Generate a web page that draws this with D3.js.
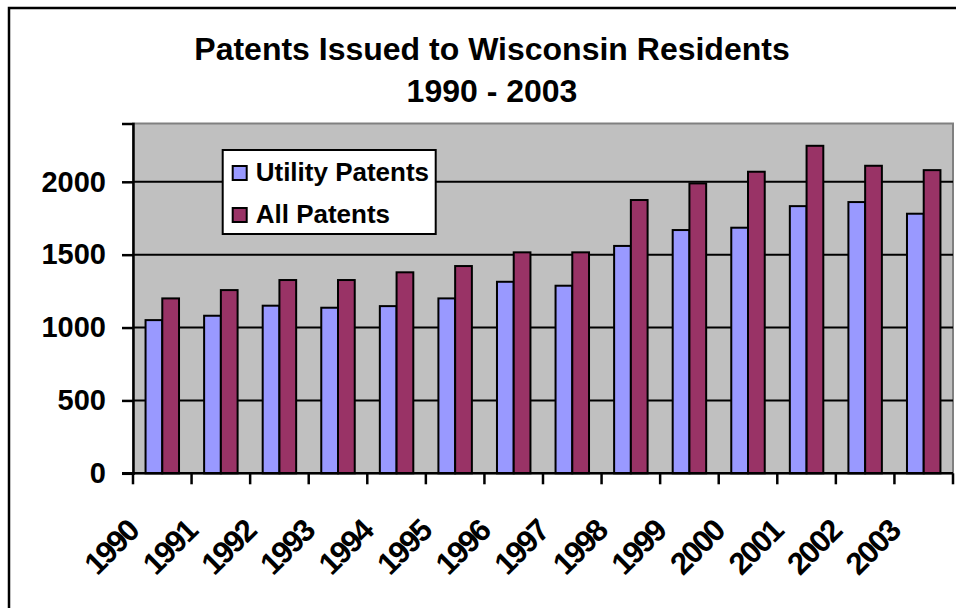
<!DOCTYPE html>
<html>
<head>
<meta charset="utf-8">
<script src="https://cdn.jsdelivr.net/npm/d3@7"></script>
<style>
  body { margin: 0; background: #fff; }
  text { font-family: "Liberation Sans", Arial, sans-serif; font-weight: bold; }
</style>
</head>
<body>
<script>
// data
var years = ["1990","1991","1992","1993","1994","1995","1996","1997","1998","1999","2000","2001","2002","2003"];
var utilityPatents = [1051, 1081, 1150, 1136, 1147, 1200, 1314, 1287, 1560, 1669, 1685, 1833, 1861, 1781];
var allPatents = [1200, 1257, 1326, 1326, 1379, 1422, 1516, 1516, 1875, 1989, 2069, 2247, 2110, 2080];
var seriesNames = ["Utility Patents", "All Patents"];
var yTicks = [0, 500, 1000, 1500, 2000];

var colors = ["#9999FF", "#993366"];

// set dimensions
var width = 956;
var height = 608;
var plot = { left: 133, right: 953, top: 123.5, bottom: 473.3 };

var svg = d3.select("body")
    .append("svg")
    .attr("width", width)
    .attr("height", height);

// outer chart border (cropped at right and bottom)
svg.append("rect")
    .attr("x", 9).attr("y", 8)
    .attr("width", 1000).attr("height", 700)
    .attr("fill", "#fff")
    .attr("stroke", "#000")
    .attr("stroke-width", 2.5);

// title
var title = svg.append("text")
    .attr("text-anchor", "middle")
    .attr("font-size", "32px");
title.append("tspan").attr("x", 492).attr("y", 60).text("Patents Issued to Wisconsin Residents");
title.append("tspan").attr("x", 492).attr("y", 102).text("1990 - 2003");

// scales
var x0 = d3.scaleBand()
    .domain(years)
    .range([plot.left, plot.right]);

var barW = x0.bandwidth() / 3.5;
var x1 = d3.scaleBand()
    .domain(seriesNames)
    .range([0, barW * 2]);
var groupOffset = (x0.bandwidth() - barW * 2) / 2;

var yScale = d3.scaleLinear()
    .domain([0, 2400])
    .range([plot.bottom, plot.top]);

// plot background
svg.append("rect")
    .attr("x", plot.left)
    .attr("y", plot.top)
    .attr("width", plot.right - plot.left)
    .attr("height", plot.bottom - plot.top)
    .attr("fill", "#C0C0C0")
    .attr("stroke", "#808080")
    .attr("stroke-width", 2);

// gridlines
svg.append("g")
    .selectAll("line")
    .data(yTicks.filter(d => d > 0))
    .enter()
    .append("line")
    .attr("x1", plot.left)
    .attr("x2", plot.right)
    .attr("y1", d => yScale(d))
    .attr("y2", d => yScale(d))
    .attr("stroke", "#000")
    .attr("stroke-width", 2);

// bars
var rows = years.map((y, i) => ({ year: y, values: [utilityPatents[i], allPatents[i]] }));

var groups = svg.append("g")
    .selectAll("g")
    .data(rows)
    .enter()
    .append("g")
    .attr("transform", d => `translate(${x0(d.year) + groupOffset},0)`);

groups.selectAll("rect")
    .data(d => d.values.map((v, j) => ({ name: seriesNames[j], value: v, j: j })))
    .enter()
    .append("rect")
    .attr("x", d => x1(d.name))
    .attr("y", d => yScale(d.value))
    .attr("width", x1.bandwidth())
    .attr("height", d => yScale(0) - yScale(d.value))
    .attr("fill", d => colors[d.j])
    .attr("stroke", "#000")
    .attr("stroke-width", 2);

// y axis
var yAxis = d3.axisLeft(yScale)
    .tickValues(yTicks)
    .tickFormat(d3.format("d"))
    .tickSize(11)
    .tickPadding(16);

var yg = svg.append("g")
    .attr("transform", `translate(${plot.left},0)`)
    .call(yAxis);
yg.select(".domain").attr("stroke-width", 2.5);
yg.selectAll(".tick line").attr("stroke-width", 2.5);
yg.selectAll("text")
    .attr("font-size", "29px")
    .attr("font-family", "'Liberation Sans', Arial, sans-serif")
    .attr("font-weight", "bold")
    .attr("fill", "#000");

// x axis line and boundary ticks
var xg = svg.append("g");
xg.append("line")
    .attr("x1", plot.left - 11)
    .attr("x2", plot.right)
    .attr("y1", plot.bottom)
    .attr("y2", plot.bottom)
    .attr("stroke", "#000")
    .attr("stroke-width", 2.5);

var boundaries = years.map(d => x0(d)).concat([x0(years[years.length - 1]) + x0.bandwidth()]);
xg.selectAll(".xtick")
    .data(boundaries)
    .enter()
    .append("line")
    .attr("x1", d => d)
    .attr("x2", d => d)
    .attr("y1", plot.bottom)
    .attr("y2", plot.bottom + 11)
    .attr("stroke", "#000")
    .attr("stroke-width", 2.5);

// x labels (rotated, tightly spaced)
xg.selectAll(".xlabel")
    .data(years)
    .enter()
    .append("text")
    .attr("text-anchor", "end")
    .attr("font-size", "31px")
    .attr("letter-spacing", "-2px")
    .attr("transform", d => `translate(${x0(d) + x0.bandwidth() / 2 - 22},${plot.bottom + 60}) rotate(-45)`)
    .text(d => d);

// legend
var legend = svg.append("g").attr("transform", "translate(222.7,150)");
legend.append("rect")
    .attr("width", 213)
    .attr("height", 84)
    .attr("fill", "#fff")
    .attr("stroke", "#000")
    .attr("stroke-width", 2);

var items = legend.selectAll(".item")
    .data(seriesNames)
    .enter()
    .append("g")
    .attr("transform", (d, i) => `translate(10,${16 + i * 42})`);

items.append("rect")
    .attr("width", 14)
    .attr("height", 14)
    .attr("fill", (d, i) => colors[i])
    .attr("stroke", "#000")
    .attr("stroke-width", 2);

items.append("text")
    .attr("x", 23)
    .attr("y", 15)
    .attr("font-size", "26px")
    .text(d => d);
</script>
</body>
</html>
